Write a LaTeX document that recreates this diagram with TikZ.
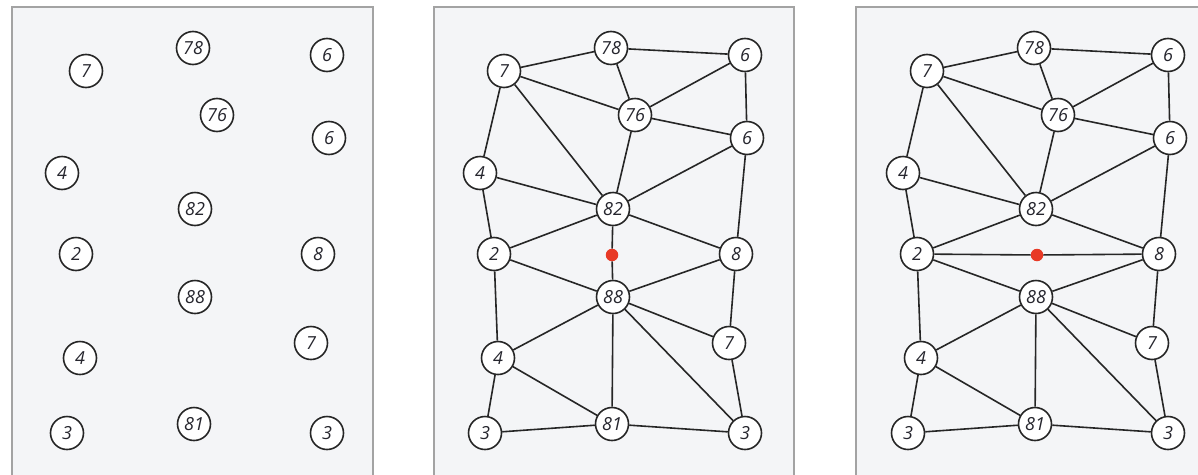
\documentclass[tikz,border=0pt]{standalone}
\usepackage{fontspec}
\setmainfont{Open Sans}
\usetikzlibrary{backgrounds}
\pgfdeclarelayer{panels}
\pgfdeclarelayer{edges}
\pgfsetlayers{panels,edges,main}
\definecolor{framegray}{HTML}{A3A3A3}
\definecolor{panelbg}{HTML}{F4F5F7}
\definecolor{dotred}{HTML}{E83A26}
\definecolor{txt}{HTML}{26262E}
\newcommand\placegraphnodes[1]{%
  \node[vtx] (#1n7)  at (86,71)   {7};
  \node[vtx] (#1n78) at (193,48)  {78};
  \node[vtx] (#1n6a) at (327,55)  {6};
  \node[vtx] (#1n76) at (217,115) {76};
  \node[vtx] (#1n6b) at (329,138) {6};
  \node[vtx] (#1n4a) at (62,173)  {4};
  \node[vtx] (#1n82) at (195,209) {82};
  \node[vtx] (#1n2)  at (76,254)  {2};
  \node[vtx] (#1n8)  at (318,254) {8};
  \node[vtx] (#1n88) at (195,297) {88};
  \node[vtx] (#1n7b) at (311,343) {7};
  \node[vtx] (#1n4b) at (80,358)  {4};
  \node[vtx] (#1n3a) at (67,433)  {3};
  \node[vtx] (#1n81) at (194,424) {81};
  \node[vtx] (#1n3b) at (327,433) {3};
}
\newcommand\drawcommonedges[1]{%
  \begin{pgfonlayer}{edges}
  \draw[edge] (#1n7)--(#1n78) (#1n78)--(#1n6a) (#1n78)--(#1n76) (#1n7)--(#1n76)
    (#1n76)--(#1n6a) (#1n76)--(#1n6b) (#1n6a)--(#1n6b) (#1n7)--(#1n4a)
    (#1n7)--(#1n82) (#1n76)--(#1n82) (#1n6b)--(#1n82) (#1n4a)--(#1n82)
    (#1n4a)--(#1n2) (#1n2)--(#1n82) (#1n82)--(#1n8) (#1n6b)--(#1n8)
    (#1n2)--(#1n88) (#1n8)--(#1n88) (#1n2)--(#1n4b) (#1n88)--(#1n4b)
    (#1n88)--(#1n7b) (#1n8)--(#1n7b) (#1n88)--(#1n81) (#1n88)--(#1n3b)
    (#1n4b)--(#1n3a) (#1n4b)--(#1n81) (#1n3a)--(#1n81) (#1n81)--(#1n3b)
    (#1n7b)--(#1n3b);
  \end{pgfonlayer}
}
\begin{document}
\begin{tikzpicture}[x=1pt,y=-1pt,
  vtx/.style={circle,draw=black!85,line width=1.6pt,fill=white,minimum size=33pt,inner sep=0pt,
    font=\fontsize{18}{18}\selectfont\itshape,text=txt},
  edge/.style={draw=black!85,line width=1.6pt},
  panel/.style={draw=framegray,line width=1.8pt,fill=panelbg},
  reddot/.style={circle,fill=dotred,minimum size=12.5pt,inner sep=0pt}]
\useasboundingbox (0,0) rectangle (1198,474);
% frames
\begin{pgfonlayer}{panels}
\path[panel] (12,7) rectangle (373,480);
\path[panel] (434,7) rectangle (794,480);
\path[panel] (856,7) rectangle (1220,480);
\end{pgfonlayer}
% panel 1
\placegraphnodes{a}
% panel 2
\begin{scope}[xshift=418pt]
\placegraphnodes{b}
\node[reddot] (bdot) at (194,255) {};
\drawcommonedges{b}
\begin{pgfonlayer}{edges}
\draw[edge] (bn82)--(bdot)--(bn88);
\end{pgfonlayer}
\end{scope}
% panel 3
\begin{scope}[xshift=841pt]
\placegraphnodes{c}
\node[reddot] (cdot) at (196,255) {};
\drawcommonedges{c}
\begin{pgfonlayer}{edges}
\draw[edge] (cn2)--(cdot)--(cn8);
\end{pgfonlayer}
\end{scope}
\end{tikzpicture}
\end{document}
